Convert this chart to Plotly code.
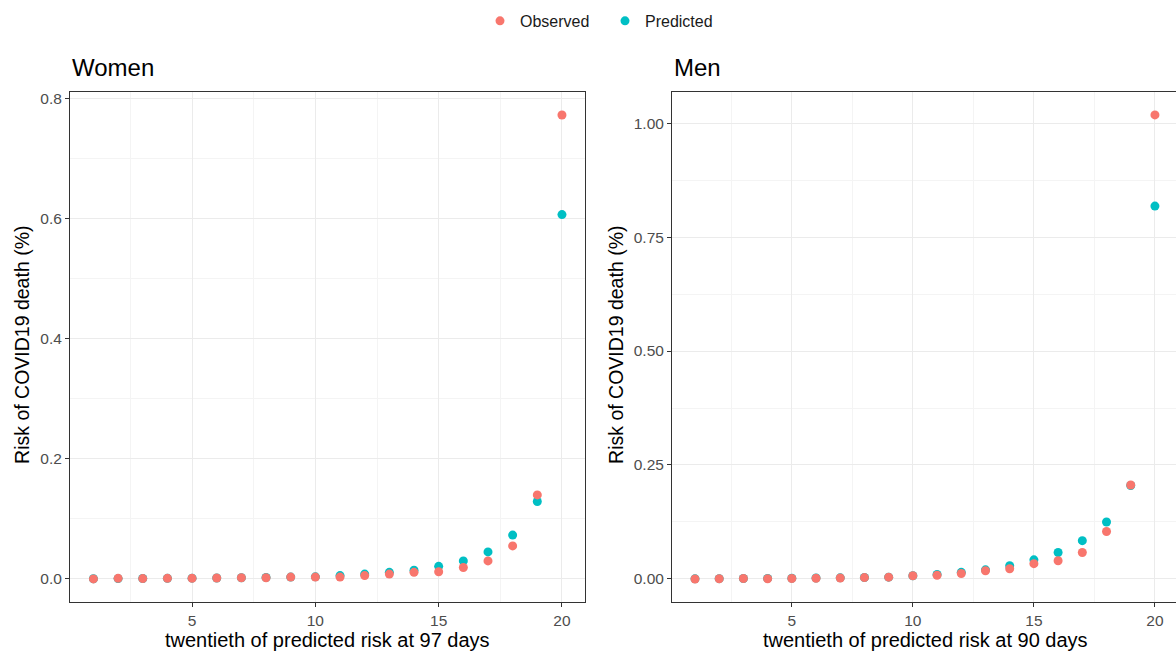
import plotly.graph_objects as go

twentieth = list(range(1, 21))

women_observed = [0.0, 0.001, 0.0005, 0.001, 0.001, 0.0015, 0.002, 0.002, 0.003, 0.003,
                  0.003, 0.0055, 0.008, 0.011, 0.012, 0.019, 0.030, 0.055, 0.140, 0.773]
women_predicted = [0.0003, 0.0006, 0.0008, 0.001, 0.0013, 0.0016, 0.002, 0.0024, 0.003, 0.0035,
                   0.0055, 0.008, 0.011, 0.0145, 0.021, 0.030, 0.045, 0.073, 0.129, 0.607]

men_observed = [0.0, 0.0005, 0.001, 0.0005, 0.001, 0.0015, 0.002, 0.003, 0.004, 0.007,
                0.008, 0.012, 0.018, 0.0225, 0.0335, 0.040, 0.058, 0.104, 0.206, 1.018]
men_predicted = [0.0003, 0.0006, 0.0009, 0.0012, 0.0016, 0.002, 0.0025, 0.0032, 0.004, 0.007,
                 0.010, 0.0145, 0.020, 0.029, 0.042, 0.058, 0.084, 0.125, 0.205, 0.818]

panel_titles = ["Women", "Men"]
x_titles = ["twentieth of predicted risk at 97 days", "twentieth of predicted risk at 90 days"]
y_title = "Risk of COVID19 death (%)"
x_ticks = [5, 10, 15, 20]
women_y_ticks = [0.0, 0.2, 0.4, 0.6, 0.8]
women_y_labels = ["0.0", "0.2", "0.4", "0.6", "0.8"]
men_y_ticks = [0.0, 0.25, 0.5, 0.75, 1.0]
men_y_labels = ["0.00", "0.25", "0.50", "0.75", "1.00"]

RED = "#F8766D"
TEAL = "#00BFC4"
FONT = "Liberation Sans, Arial, sans-serif"
W, H = 1176, 653

fig = go.Figure()

marker_size = 9
fig.add_trace(go.Scatter(x=twentieth, y=women_predicted, mode="markers", name="Predicted",
                         marker=dict(color=TEAL, size=marker_size), legendgroup="p",
                         legendrank=2, xaxis="x", yaxis="y"))
fig.add_trace(go.Scatter(x=twentieth, y=women_observed, mode="markers", name="Observed",
                         marker=dict(color=RED, size=marker_size), legendgroup="o",
                         legendrank=1, xaxis="x", yaxis="y"))
fig.add_trace(go.Scatter(x=twentieth, y=men_predicted, mode="markers", name="Predicted",
                         marker=dict(color=TEAL, size=marker_size), legendgroup="p",
                         showlegend=False, xaxis="x2", yaxis="y2"))
fig.add_trace(go.Scatter(x=twentieth, y=men_observed, mode="markers", name="Observed",
                         marker=dict(color=RED, size=marker_size), legendgroup="o",
                         showlegend=False, xaxis="x2", yaxis="y2"))

# geometry in pixels
L1, R1 = 70, 585.4
L2, R2 = 672, 1176
TOP, BOT = 90, 602

ydom = [1 - BOT / H, 1 - TOP / H]
grid_major = "#EBEBEB"
grid_minor = "#F4F4F4"
axis_line = "#333333"
tick_font = dict(family=FONT, size=15.5, color="#4D4D4D")


def xaxis(dom, rng):
    return dict(domain=dom, range=rng, tickvals=x_ticks, ticktext=[str(t) for t in x_ticks],
                showgrid=True, gridcolor=grid_major, gridwidth=1.1,
                minor=dict(tickvals=[2.5, 7.5, 12.5, 17.5], showgrid=True, gridcolor=grid_minor,
                           gridwidth=0.6, ticks=""),
                zeroline=False, showline=True, linecolor=axis_line, linewidth=1,
                mirror=True, ticks="outside", ticklen=4, tickcolor=axis_line,
                tickfont=tick_font)


def yaxis(anchor, rng, tv, tt, minor_vals, mirror):
    return dict(domain=ydom, range=rng, anchor=anchor, tickvals=tv, ticktext=tt,
                showgrid=True, gridcolor=grid_major, gridwidth=1.1,
                minor=dict(tickvals=minor_vals, showgrid=True, gridcolor=grid_minor,
                           gridwidth=0.6, ticks=""),
                zeroline=False, showline=True, linecolor=axis_line, linewidth=1,
                mirror=mirror, ticks="outside", ticklen=4, tickcolor=axis_line,
                tickfont=tick_font)


fig.update_layout(
    width=W, height=H,
    margin=dict(l=0, r=0, t=0, b=0),
    paper_bgcolor="white", plot_bgcolor="white",
    font=dict(family=FONT, color="black"),
    xaxis=xaxis([L1 / W, R1 / W], [0.05, 20.95]),
    yaxis=yaxis("x", [-0.0387, 0.8117], women_y_ticks, women_y_labels,
                [0.1, 0.3, 0.5, 0.7], True),
    xaxis2=xaxis([L2 / W, 1.0], [0.05, 20.87]),
    yaxis2=yaxis("x2", [-0.0509, 1.0689], men_y_ticks, men_y_labels,
                 [0.125, 0.375, 0.625, 0.875], False),
    legend=dict(orientation="h", x=480 / W, xanchor="left", y=1 - 19 / H, yanchor="middle",
                font=dict(family=FONT, size=16, color="#1A1A1A"),
                entrywidth=80, entrywidthmode="pixels",
                bgcolor="rgba(0,0,0,0)"),
    showlegend=True,
)

ann = []
for left, right, title, xt in [(L1, R1, panel_titles[0], x_titles[0]),
                               (L2, 1176 + 2, panel_titles[1], x_titles[1])]:
    ann.append(dict(text=title, x=left / W, y=1 - 66 / H, xref="paper", yref="paper",
                    xanchor="left", yanchor="middle", showarrow=False,
                    font=dict(family=FONT, size=24, color="black")))
    ann.append(dict(text=xt, x=(left + right) / 2 / W, y=1 - 640 / H, xref="paper", yref="paper",
                    xanchor="center", yanchor="middle", showarrow=False,
                    font=dict(family=FONT, size=20, color="black")))
for xpix in [22, 616]:
    ann.append(dict(text=y_title, x=xpix / W, y=1 - 344 / H, xref="paper",
                    yref="paper", xanchor="center", yanchor="middle", showarrow=False,
                    textangle=-90, font=dict(family=FONT, size=19.5, color="black")))
fig.update_layout(annotations=ann)

fig.write_html("out.html", config={"displayModeBar": False},
               post_script="document.body.style.margin='0';document.body.style.overflow='hidden';")
